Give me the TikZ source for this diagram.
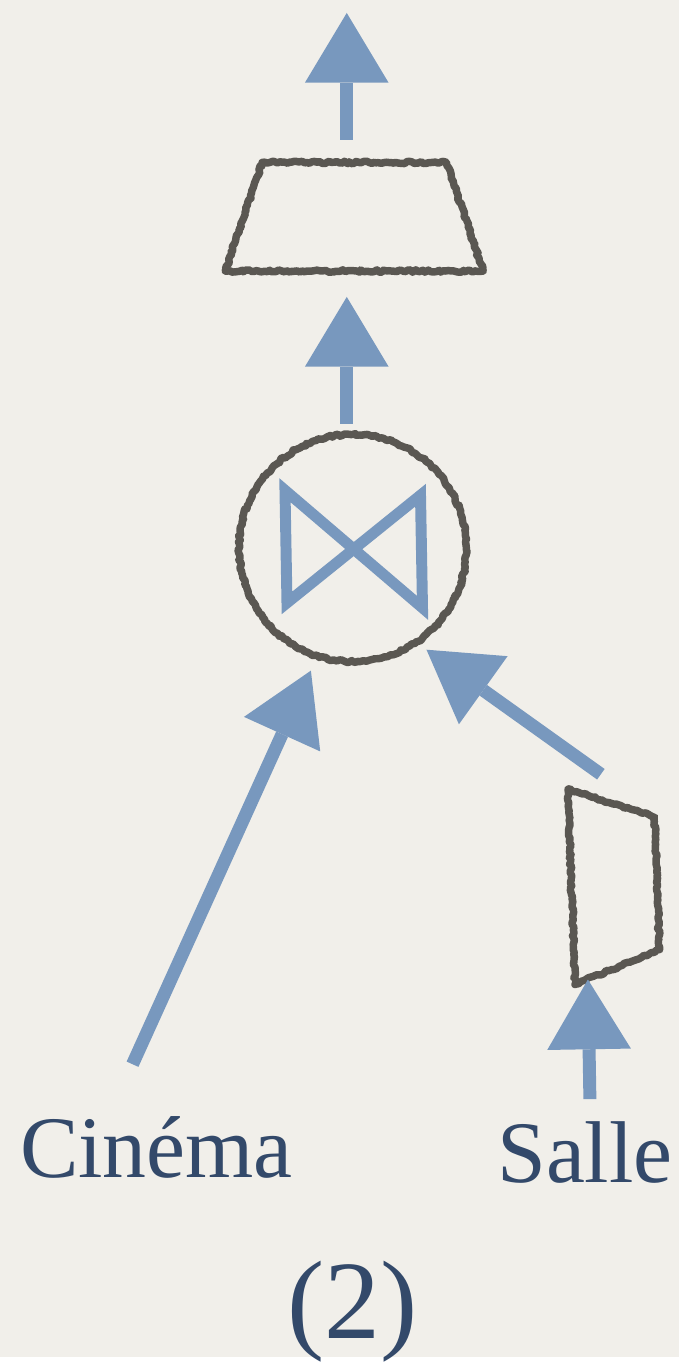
\documentclass[tikz,border=0pt]{standalone}
\usepackage{fontspec}
\setmainfont{Liberation Serif}
\usetikzlibrary{arrows.meta,decorations.pathmorphing}
\definecolor{bg}{HTML}{F1EFEA}
\definecolor{ink}{HTML}{5A5752}
\definecolor{sky}{HTML}{7898BE}
\definecolor{txt}{HTML}{33496A}
\tikzset{
  sketch/.style={draw=ink, line width=7.5pt, line join=round,
    decorate, decoration={random steps, segment length=2.5pt, amplitude=1.2pt}},
  flow/.style={draw=sky, line width=13pt,
    -{Triangle[length=70pt,width=84pt,line width=0pt]}},
  label/.style={text=txt, font=\fontsize{88}{100}\selectfont, anchor=base, inner sep=0pt},
}
\begin{document}
\begin{tikzpicture}[x=1pt,y=1pt]
\path[fill=bg] (0,0) rectangle (681,-1362);
\pgfmathsetseed{7}
% projection (top trapezoid)
\draw[sketch] (263,-163) -- (448,-163) -- (485,-272) -- (226,-272) -- cycle;
% join circle
\node[circle, minimum size=228pt, inner sep=0pt] (join) at (354,-550) {};
\draw[sketch] (join.center) circle[radius=114pt];
% bowtie
\draw[sky, line width=11pt, line join=miter]
  (286,-492) -- (288,-605) -- (422,-497) -- (424,-610) -- cycle;
% selection (right trapezoid)
\draw[sketch] (570,-792) -- (657,-820) -- (662,-953) -- (577,-988) -- cycle;
% labels
\node[label] (cinema) at (157,-1182) {Cinéma};
\node[label] (salle) at (587,-1187) {Salle};
\node[label, font=\fontsize{112}{120}\selectfont] (num) at (354,-1343) {(2)};
% connector ends
\coordinate (top) at (348,-13);
\coordinate (projIn) at (348,-298);
\coordinate (projOut) at (348,-140);
\coordinate (joinOut) at (348,-425);
\coordinate (joinL) at (312,-673);
\coordinate (joinR) at (428,-652);
\coordinate (cinOut) at (133,-1068);
\coordinate (selOut) at (603,-777);
\coordinate (selIn) at (590,-983);
\coordinate (salOut) at (592,-1103);
% connectors
\draw[flow] (projOut) -- (top);
\draw[flow] (joinOut) -- (projIn);
\draw[flow] (cinOut) -- (joinL);
\draw[flow] (selOut) -- (joinR);
\draw[flow] (salOut) -- (selIn);
\end{tikzpicture}
\end{document}
